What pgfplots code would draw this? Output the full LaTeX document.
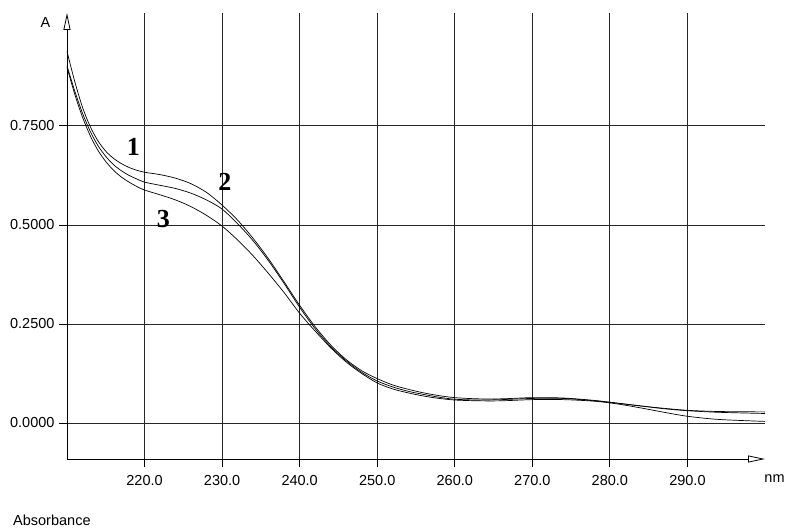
\documentclass[border=0pt]{standalone}
\usepackage{pgfplots}
\pgfplotsset{compat=1.18}
\usepackage{fontspec}
\setmainfont{Liberation Sans}
\newfontfamily\serifbold{Liberation Serif}
\usetikzlibrary{arrows.meta}

\pgfplotstableread{
x y
210 0.938
211 0.862
212 0.797
213 0.748
214 0.712
215 0.686
216 0.668
217 0.655
218 0.645
219 0.638
220 0.633
222 0.627
224 0.618
226 0.604
228 0.582
230 0.550
232 0.512
234 0.466
236 0.414
238 0.356
240 0.297
242 0.243
244 0.197
246 0.160
248 0.132
250 0.112
252 0.096
254 0.085
256 0.076
258 0.069
260 0.064
263 0.061
266 0.061
270 0.064
274 0.063
278 0.057
281 0.050
284 0.043
287 0.037
290 0.032
294 0.029
300 0.028
}\curveone

\pgfplotstableread{
x y
210 0.902
211 0.838
212 0.782
213 0.736
214 0.700
215 0.673
216 0.652
217 0.637
218 0.625
219 0.616
220 0.608
222 0.600
224 0.592
226 0.580
228 0.563
230 0.540
232 0.503
234 0.460
236 0.409
238 0.352
240 0.292
242 0.238
244 0.193
246 0.157
248 0.128
250 0.106
252 0.091
254 0.080
256 0.072
258 0.065
260 0.060
263 0.058
266 0.059
270 0.062
274 0.062
278 0.056
281 0.050
284 0.043
287 0.036
290 0.031
294 0.027
300 0.024
}\curvetwo

\pgfplotstableread{
x y
210 0.898
211 0.830
212 0.772
213 0.725
214 0.688
215 0.660
216 0.638
217 0.621
218 0.608
219 0.597
220 0.588
222 0.576
224 0.563
226 0.546
228 0.524
230 0.497
232 0.462
234 0.422
236 0.377
238 0.329
240 0.277
242 0.232
244 0.190
246 0.154
248 0.125
250 0.101
252 0.086
254 0.076
256 0.068
258 0.062
260 0.058
263 0.056
266 0.056
270 0.059
274 0.059
278 0.055
281 0.048
284 0.038
287 0.027
290 0.017
294 0.009
300 0.004
}\curvethree

\begin{document}
\begin{tikzpicture}
\useasboundingbox (0,0) rectangle (786pt,528pt);
\begin{axis}[
  at={(67pt,69pt)}, anchor=south west,
  scale only axis, width=698pt, height=446pt,
  xmin=210, xmax=300, ymin=-0.0909, ymax=1.035,
  axis lines=left,
  axis line style={line width=0.8pt, -{Triangle[open,length=17pt,width=7pt,line width=0.8pt]}},
  xtick={220,230,240,250,260,270,280,290},
  ytick={0,0.25,0.5,0.75},
  tick align=outside,
  major tick length=8pt,
  tick style={line width=0.8pt, black},
  grid=major,
  major grid style={line width=0.85pt, black!85},
  font=\fontsize{14.5}{17}\selectfont,
  /pgf/number format/assume math mode=true,
  xticklabel style={/pgf/number format/.cd, fixed, fixed zerofill, precision=1, /tikz/.cd},
  yticklabel style={/pgf/number format/.cd, fixed, fixed zerofill, precision=4, /tikz/.cd, xshift=-1pt},
  xticklabel shift=5pt,
  clip=false,
]
\addplot[black, line width=0.7pt, smooth, tension=0.5] table {\curveone};
\addplot[black, line width=0.7pt, smooth, tension=0.5] table {\curvetwo};
\addplot[black, line width=0.7pt, smooth, tension=0.5] table {\curvethree};
\node[font=\serifbold\bfseries\fontsize{26}{28}\selectfont] at (axis cs:218.55,0.696) {1};
\node[font=\serifbold\bfseries\fontsize{26}{28}\selectfont] at (axis cs:230.37,0.609) {2};
\node[font=\serifbold\bfseries\fontsize{26}{28}\selectfont] at (axis cs:222.42,0.515) {3};
\end{axis}
\node[font=\fontsize{14.5}{17}\selectfont] at (45.5pt,505pt) {A};
\node[font=\fontsize{14.5}{17}\selectfont] at (774.5pt,49.5pt) {nm};
\node[font=\fontsize{14.5}{17}\selectfont, anchor=west, inner sep=0pt] at (13pt,8pt) {Absorbance};
\end{tikzpicture}
\end{document}
